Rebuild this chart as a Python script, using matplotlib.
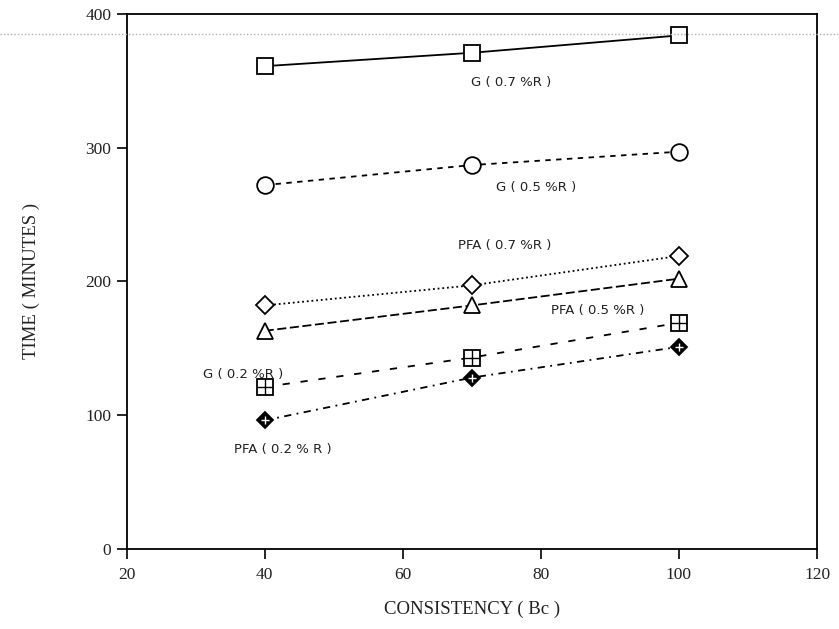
import matplotlib
matplotlib.use("Agg")
import matplotlib.pyplot as plt
from matplotlib.lines import Line2D

# ---- data ----
consistency = [40, 70, 100]
g_07 = [361, 371, 384]
g_05 = [272, 287, 297]
pfa_07 = [182, 197, 219]
pfa_05 = [163, 182, 202]
g_02 = [121, 143, 169]
pfa_02 = [96, 128, 151]

series_labels = ["G ( 0.7 %R )", "G ( 0.5 %R )", "PFA ( 0.7 %R )",
                 "PFA ( 0.5 %R )", "G ( 0.2 %R )", "PFA ( 0.2 % R )"]
label_x = [75.7, 79.3, 74.8, 88.3, 36.8, 42.6]
label_y = [349, 270.5, 227, 178, 130.5, 74]

x_ticks = [20, 40, 60, 80, 100, 120]
y_ticks = [0, 100, 200, 300, 400]
x_label = "CONSISTENCY ( Bc )"
y_label = "TIME ( MINUTES )"

fig = plt.figure(figsize=(8.39, 6.29), dpi=100)
ax = fig.add_axes([0.151, 0.1277, 0.8228, 0.85])

k = dict(color="black", lw=1.3, mec="black", mew=1.3)
ax.plot(consistency, g_07, ls="-", marker="s", ms=11, mfc="white", **k, zorder=3)
ax.plot(consistency, g_05, ls=(0, (3, 3)), marker="o", ms=12, mfc="white", **k, zorder=3)
ax.plot(consistency, pfa_07, ls=(0, (1, 1.6)), marker="D", ms=9.5, mfc="white", **k, zorder=3)
ax.plot(consistency, pfa_05, ls=(0, (5, 2)), marker="^", ms=12, mfc="white", **k, zorder=3)
ax.plot(consistency, g_02, ls=(0, (4, 6)), marker="s", ms=11, mfc="white", **k, zorder=3)
ax.plot(consistency, g_02, ls="none", marker="+", ms=11, mec="black", mew=1.0, zorder=4)
ax.plot(consistency, pfa_02, ls=(0, (4, 3, 1, 3)), marker="D", ms=8.5, mfc="black", **k, zorder=3)
ax.plot(consistency, pfa_02, ls="none", marker="+", ms=6, mec="white", mew=1.0, zorder=4)

for t, lx, ly in zip(series_labels, label_x, label_y):
    ax.text(lx, ly, t, ha="center", va="center", fontsize=9.5,
            family="DejaVu Sans", color="#222222")

ax.set_xlim(20, 120)
ax.set_ylim(0, 400)
ax.set_xticks(x_ticks)
ax.set_yticks(y_ticks)
ax.set_xticklabels([str(v) for v in x_ticks], family="Liberation Serif", fontsize=12.5, color="#222222")
ax.set_yticklabels([str(v) for v in y_ticks], family="Liberation Serif", fontsize=12.5, color="#222222")
ax.tick_params(axis="both", direction="out", length=7, width=1.2, color="black")
ax.tick_params(axis="x", pad=6)
ax.tick_params(axis="y", pad=4)
for s in ax.spines.values():
    s.set_linewidth(1.3)
ax.set_xlabel(x_label, family="Liberation Serif", fontsize=13.5, color="#222222", labelpad=13)
ax.set_ylabel(y_label, family="Liberation Serif", fontsize=13.5, color="#222222", labelpad=33)

# scan artifact: faint dotted line across the page
fig.add_artist(Line2D([0, 1], [1 - 33.5 / 629, 1 - 33.5 / 629], transform=fig.transFigure,
                      color="#b0b0b0", lw=1.0, ls=(0, (1, 1.5))))

fig.savefig("out.png", dpi=100)
